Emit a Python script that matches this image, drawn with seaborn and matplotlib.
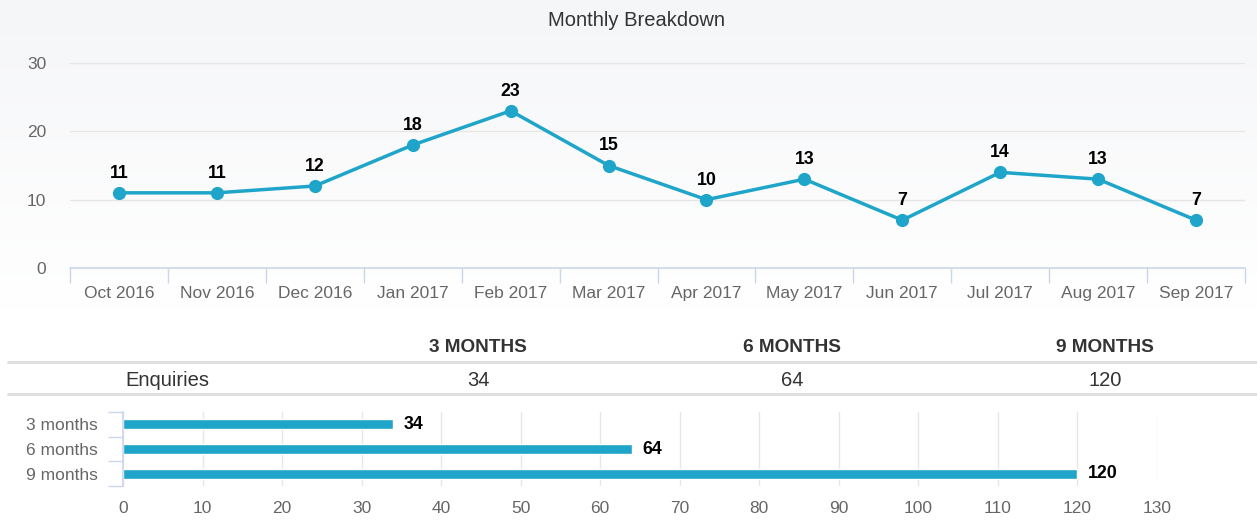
import numpy as np
import pandas as pd
import matplotlib
matplotlib.use("Agg")
import matplotlib.pyplot as plt
from matplotlib.lines import Line2D
from matplotlib.colors import LinearSegmentedColormap
import seaborn as sns

# data
months = ["Oct 2016", "Nov 2016", "Dec 2016", "Jan 2017", "Feb 2017", "Mar 2017",
          "Apr 2017", "May 2017", "Jun 2017", "Jul 2017", "Aug 2017", "Sep 2017"]
enquiries = [11, 11, 12, 18, 23, 15, 10, 13, 7, 14, 13, 7]
periods = ["3 months", "6 months", "9 months"]
period_headers = ["3 MONTHS", "6 MONTHS", "9 MONTHS"]
period_totals = [34, 64, 120]
row_label = "Enquiries"

BLUE = "#1fa5c9"
AXIS_BLUE = "#ccd6eb"
GRID = "#e6e6e6"
TICK = "#666666"
DARK = "#333333"

sns.set_style("white")
plt.rcParams["font.family"] = ["Liberation Sans", "DejaVu Sans"]

W, H = 1257, 521
fig = plt.figure(figsize=(W / 100, H / 100), dpi=100)


def fx(px):
    return px / W


def fy(py):
    return 1 - py / H


# soft grey gradient behind the line chart
bg = fig.add_axes([0, fy(310), 1, 1 - fy(310)], zorder=-10)
cmap = LinearSegmentedColormap.from_list("bg", ["#f5f6f8", "#ffffff"])
bg.imshow(np.linspace(0, 1, 256).reshape(-1, 1), aspect="auto", cmap=cmap, extent=[0, 1, 0, 1])
bg.axis("off")

# line chart
ax = fig.add_axes([fx(70), fy(268), fx(1245) - fx(70), fy(63) - fy(268)])
ax.patch.set_alpha(0)
df = pd.DataFrame({"month": months, "enquiries": enquiries})
sns.lineplot(data=df, x="month", y="enquiries", sort=False, color=BLUE, lw=2.5,
             marker="o", markersize=9.5, markeredgewidth=0, ax=ax)
ax.set_xlim(-0.5, len(months) - 0.5)
ax.set_ylim(0, 30)
ax.set_yticks([0, 10, 20, 30])
ax.set_xticks(np.arange(-0.5, len(months), 1), minor=True)
ax.tick_params(axis="x", which="minor", bottom=True, length=11, width=1, color=AXIS_BLUE)
ax.tick_params(axis="x", which="major", bottom=True, length=0, pad=13, labelsize=12.5, labelcolor=TICK)
ax.tick_params(axis="y", length=0, pad=17, labelsize=12.5, labelcolor=TICK)
ax.set_axisbelow(True)
ax.yaxis.grid(True, color=GRID, lw=1)
ax.xaxis.grid(False)
for s in ["top", "right", "left"]:
    ax.spines[s].set_visible(False)
ax.spines["bottom"].set_color(AXIS_BLUE)
ax.spines["bottom"].set_linewidth(1.2)
ax.set_xlabel("")
ax.set_ylabel("")
for i, v in enumerate(enquiries):
    ax.annotate(str(v), (i, v), xytext=(0, 8), textcoords="offset points",
                ha="center", va="bottom", fontsize=12.8, fontweight="bold", color="black")

fig.text(fx(636), fy(21), "Monthly Breakdown", ha="center", va="center", fontsize=14.5, color=DARK)

# summary table
col_x = [478, 792, 1105]
for x, h, t in zip(col_x, period_headers, period_totals):
    fig.text(fx(x), fy(347), h, ha="center", va="center", fontsize=13.7, fontweight="bold", color=DARK)
    fig.text(fx(x), fy(380), str(t), ha="center", va="center", fontsize=14.5, color=DARK)
fig.text(fx(167), fy(380), row_label, ha="center", va="center", fontsize=14.5, color=DARK)
for yy in [362, 394]:
    fig.add_artist(Line2D([fx(8), 1], [fy(yy), fy(yy)], color="#dddddd", lw=2))

# bar chart
ax2 = fig.add_axes([fx(123), fy(486), fx(1157) - fx(123), fy(412) - fy(486)])
bdf = pd.DataFrame({"period": periods, "total": period_totals})
sns.barplot(data=bdf, y="period", x="total", orient="h", color=BLUE, width=0.41,
            saturation=1, ax=ax2)
ax2.set_xlim(0, 130)
ax2.set_ylim(2.5, -0.5)
ax2.set_xticks(range(0, 131, 10))
ax2.set_yticks(np.arange(-0.5, 3, 1), minor=True)
ax2.tick_params(axis="y", which="minor", left=True, length=10.8, width=1, color=AXIS_BLUE)
ax2.tick_params(axis="y", which="major", left=True, length=0, pad=18, labelsize=12.5, labelcolor=TICK)
ax2.tick_params(axis="x", length=0, pad=11, labelsize=12.5, labelcolor=TICK)
ax2.set_axisbelow(True)
ax2.xaxis.grid(True, color=GRID, lw=1)
ax2.yaxis.grid(False)
for s in ["top", "right", "bottom"]:
    ax2.spines[s].set_visible(False)
ax2.spines["left"].set_color(AXIS_BLUE)
ax2.spines["left"].set_linewidth(1.2)
ax2.set_xlabel("")
ax2.set_ylabel("")
for i, v in enumerate(period_totals):
    ax2.annotate(str(v), (v, i), xytext=(7.5, 0), textcoords="offset points",
                 ha="left", va="center", fontsize=12.8, fontweight="bold", color="black")

fig.savefig("out.png", dpi=100)
